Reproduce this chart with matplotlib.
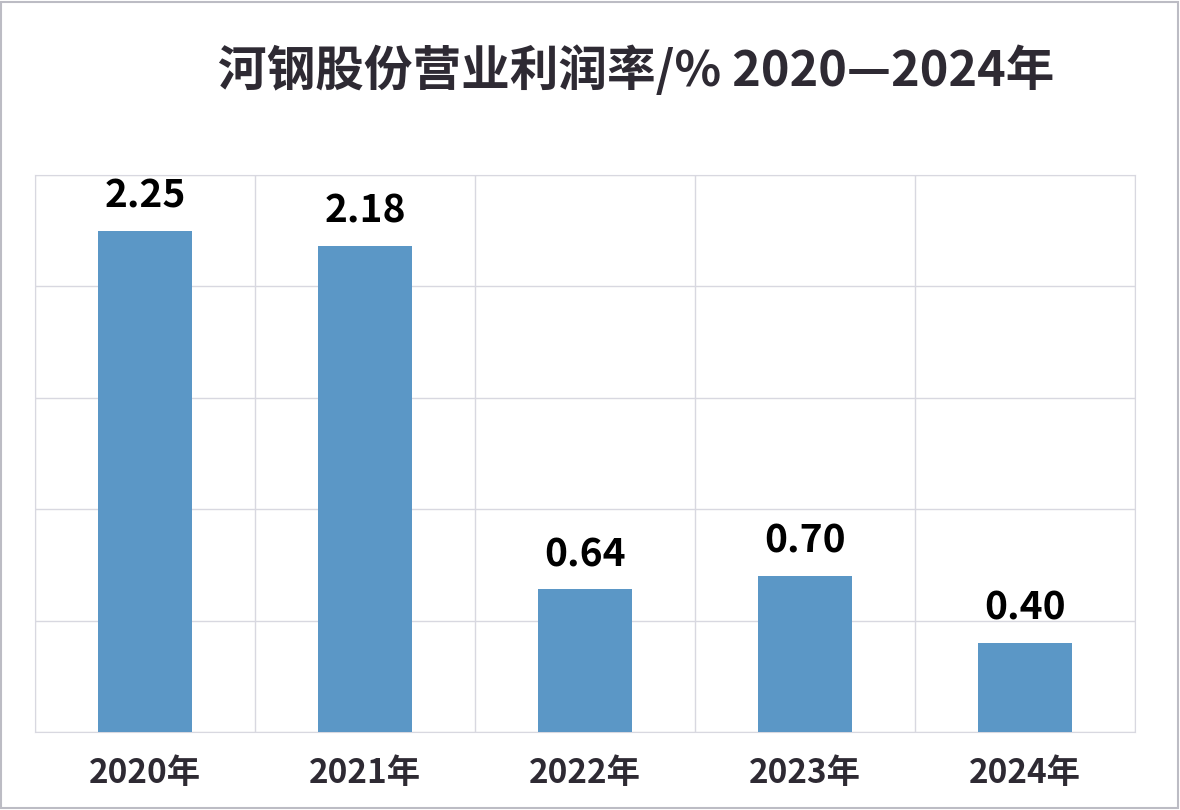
import matplotlib
matplotlib.use('Agg')
import matplotlib.pyplot as plt
from matplotlib.patches import Rectangle

plt.rcParams['font.family'] = ['Noto Sans CJK SC', 'DejaVu Sans']

# data
years = ['2020年', '2021年', '2022年', '2023年', '2024年']
margin = [2.25, 2.18, 0.64, 0.70, 0.40]
title = '河钢股份营业利润率/% 2020—2024年'

bar_color = '#5b97c6'
grid_color = '#d8d8e0'
text_color = '#2e2a33'

fig = plt.figure(figsize=(11.8, 8.1), dpi=100)
ax = fig.add_axes([0.0297, 0.0963, 0.9322, 0.6877])

x = range(len(years))
ax.bar(x, margin, width=0.43, color=bar_color, zorder=3)

for xi, v in zip(x, margin):
    ax.annotate('%.2f' % v, (xi, v), xytext=(0, 11), textcoords='offset points',
                ha='center', va='bottom', fontsize=28, fontweight='bold', color='black')

ax.set_xlim(-0.5, len(years) - 0.5)
ax.set_ylim(0, 2.5)
ax.set_yticks([0, 0.5, 1.0, 1.5, 2.0, 2.5])
ax.set_yticklabels([])
ax.set_xticks(list(x))
ax.set_xticklabels(years, fontsize=24, fontweight='bold', color=text_color)
ax.set_xticks([i + 0.5 for i in range(-1, len(years))], minor=True)
ax.tick_params(axis='x', which='major', length=0, pad=18)
ax.tick_params(axis='both', which='minor', length=0)
ax.tick_params(axis='y', length=0)
ax.grid(True, axis='y', which='major', color=grid_color, lw=1, zorder=0)
ax.grid(True, axis='x', which='minor', color=grid_color, lw=1, zorder=0)
for s in ax.spines.values():
    s.set_color(grid_color)

fig.text(0.539, 0.913, title, ha='center', va='center', fontsize=35,
         fontweight='bold', color=text_color)

fig.patches.append(Rectangle((0.001, 0.002), 0.997, 0.996, transform=fig.transFigure,
                             fill=False, edgecolor='#bcbcc4', lw=1.5))

fig.savefig('out.png', dpi=100)
